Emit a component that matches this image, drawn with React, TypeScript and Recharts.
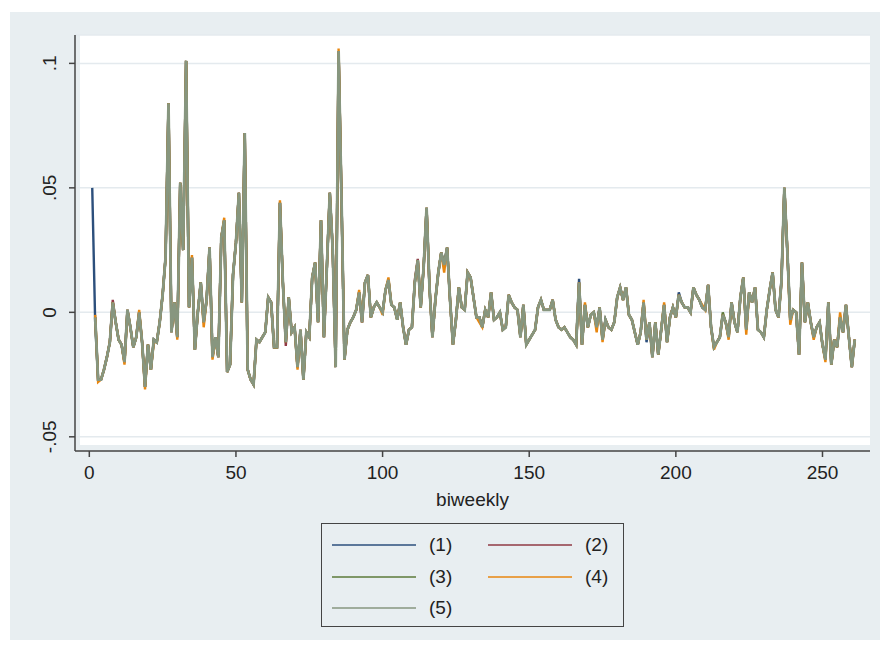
import { LineChart, Line, XAxis, YAxis, CartesianGrid } from 'recharts';

// biweekly periods 1..261
const weeks: number[] = Array.from({ length: 261 }, (_, i) => i + 1);

// shared path (series 2-5 start at week 2)
const base: (number | null)[] = [
  null, -0.002, -0.027, -0.027, -0.023, -0.018, -0.012, 0.004, -0.004, -0.011,
  -0.013, -0.020, 0.001, -0.006, -0.014, -0.010, 0.000, -0.012, -0.030, -0.013,
  -0.023, -0.011, -0.012, -0.004, 0.007, 0.022, 0.084, -0.008, 0.004, -0.010,
  0.052, 0.025, 0.101, 0.002, 0.022, -0.015, 0.000, 0.012, -0.004, 0.005,
  0.026, -0.018, -0.010, -0.018, 0.030, 0.037, -0.024, -0.021, 0.015, 0.028,
  0.048, 0.004, 0.072, -0.023, -0.027, -0.029, -0.011, -0.012, -0.010, -0.008,
  0.006, 0.004, -0.014, -0.014, 0.044, 0.012, -0.012, 0.006, -0.008, -0.006,
  -0.022, -0.007, -0.027, -0.008, -0.010, 0.014, 0.020, -0.004, 0.037, -0.010,
  0.018, 0.048, 0.025, -0.022, 0.105, 0.045, -0.019, -0.007, -0.004, -0.002,
  0.001, 0.008, -0.004, 0.012, 0.015, -0.002, 0.002, 0.004, 0.002, 0.000,
  0.009, 0.013, 0.003, 0.002, -0.003, 0.004, -0.006, -0.013, -0.007, -0.006,
  0.012, 0.021, 0.002, 0.018, 0.042, 0.010, -0.010, 0.005, 0.016, 0.024,
  0.019, 0.026, 0.005, -0.013, -0.003, 0.010, 0.002, 0.001, 0.016, 0.014,
  0.006, -0.002, -0.002, -0.006, 0.001, -0.002, 0.008, -0.003, -0.002, 0.000,
  -0.007, -0.006, 0.007, 0.004, 0.002, 0.001, -0.010, 0.003, -0.013, -0.011,
  -0.009, -0.007, 0.002, 0.005, 0.001, 0.001, 0.001, 0.005, -0.003, -0.006,
  -0.007, -0.006, -0.008, -0.010, -0.011, -0.013, 0.012, -0.013, 0.003, -0.006,
  -0.001, 0.000, -0.006, 0.002, -0.011, -0.003, -0.006, -0.007, -0.004, 0.006,
  0.010, 0.005, 0.010, -0.001, -0.003, -0.008, -0.013, -0.008, 0.004, -0.011,
  -0.004, -0.018, -0.004, -0.017, -0.007, 0.003, -0.012, -0.002, 0.002, -0.002,
  0.007, 0.004, 0.002, 0.002, 0.000, 0.010, 0.007, 0.005, 0.002, 0.001,
  0.011, -0.006, -0.014, -0.012, -0.010, -0.001, -0.004, -0.010, 0.004, -0.004,
  -0.008, 0.006, 0.014, -0.007, 0.008, 0.004, 0.010, -0.007, -0.008, -0.010,
  0.001, 0.009, 0.016, 0.001, -0.002, 0.012, 0.050, 0.025, -0.003, 0.001,
  0.000, -0.017, 0.020, -0.004, 0.004, -0.004, -0.010, -0.006, -0.004, -0.013,
  -0.019, 0.004, -0.021, -0.011, -0.014, -0.002, -0.008, 0.003, -0.010, -0.022,
  -0.011,
];

// where a series peeks out from under the others (week -> value)
const s1Diff: Record<number, number> = { 1: 0.05, 2: -0.004, 167: 0.0135, 190: -0.012, 201: 0.008, 236: 0.013 };
const s2Diff: Record<number, number> = { 8: 0.005, 67: -0.0135, 111: 0.013, 112: 0.0215 };
const s3Diff: Record<number, number> = { 93: -0.003, 216: 0.000 };
const s4Diff: Record<number, number> = {
  2: -0.001, 3: -0.028, 12: -0.021, 17: 0.001, 19: -0.031, 22: -0.012, 30: -0.011,
  35: 0.023, 39: -0.006, 42: -0.019, 43: -0.011, 46: 0.038, 65: 0.045, 71: -0.023,
  85: 0.106, 92: 0.009, 100: -0.001, 102: 0.014, 121: 0.016, 133: -0.004, 169: 0.004,
  173: -0.008, 175: -0.012, 189: 0.005, 196: 0.004, 209: 0.003, 213: -0.015,
  218: -0.011, 224: -0.009, 239: -0.005, 247: -0.011, 251: -0.020, 256: 0.000,
};

const seriesNames = ['(1)', '(2)', '(3)', '(4)', '(5)'];
const seriesColors = ['#2c4f7c', '#913a45', '#5d7a3a', '#e8860f', '#87967f'];
const yTicks = [-0.05, 0, 0.05, 0.1];
const xTicks = [0, 50, 100, 150, 200, 250];

const diffs = [s1Diff, s2Diff, s3Diff, s4Diff, {} as Record<number, number>];

const data = weeks.map((t, i) => {
  const row: Record<string, number | null> = { t };
  diffs.forEach((d, k) => {
    row[`s${k + 1}`] = d[t] !== undefined ? d[t] : base[i];
  });
  return row;
});

const FONT = '"Liberation Sans", Arial, Helvetica, sans-serif';

function fmtY(v: number) {
  if (v === 0) return '0';
  return String(v).replace('0.', '.');
}

function YTick(props: any) {
  const { x, y, payload } = props;
  return (
    <text
      x={x}
      y={y}
      transform={`rotate(-90, ${x}, ${y})`}
      textAnchor="middle"
      fontSize={19}
      fontFamily={FONT}
      fill="#222"
    >
      {fmtY(payload.value)}
    </text>
  );
}

export default function App() {
  return (
    <div style={{ position: 'absolute', left: 0, top: 0, width: 880, height: 651, background: '#fff', overflow: 'hidden' }}>
      <div style={{ position: 'absolute', left: 10, top: 12, width: 870, height: 628, background: '#e8eef1' }} />
      <div style={{ position: 'absolute', left: 80, top: 35, width: 790, height: 410, background: '#fff' }} />
      <div style={{ position: 'absolute', left: 0, top: 0 }}>
        <LineChart width={880} height={651} data={data} margin={{ top: 35, right: 10, left: 0, bottom: 0 }}>
          <CartesianGrid vertical={false} stroke="#e4eaee" strokeWidth={1.5} />
          <XAxis
            dataKey="t"
            type="number"
            domain={[-4.88, 266.2]}
            allowDataOverflow
            ticks={xTicks}
            height={200}
            tickSize={6}
            tickMargin={9}
            stroke="#444"
            strokeWidth={1.5}
            tick={{ fontSize: 19, fontFamily: FONT, fill: '#222' }}
            label={{ value: 'biweekly', position: 'insideTop', offset: 42, fontSize: 19, fontFamily: FONT, fill: '#222' }}
          />
          <YAxis
            type="number"
            domain={[-0.0557, 0.1114]}
            allowDataOverflow
            ticks={yTicks}
            width={75}
            tickSize={6}
            tickMargin={13}
            stroke="#444"
            strokeWidth={1.5}
            tick={<YTick />}
          />
          {seriesNames.map((name, k) => (
            <Line
              key={name}
              type="linear"
              dataKey={`s${k + 1}`}
              name={name}
              stroke={seriesColors[k]}
              strokeWidth={k === 4 ? 2.8 : 2.4}
              dot={false}
              isAnimationActive={false}
            />
          ))}
        </LineChart>
      </div>
      <div
        style={{
          position: 'absolute',
          left: 321,
          top: 523,
          width: 303,
          height: 104,
          boxSizing: 'border-box',
          border: '1.5px solid #444',
          fontFamily: FONT,
          fontSize: 19,
          color: '#222',
        }}
      >
        {seriesNames.map((name, k) => {
          const col = k % 2;
          const row = Math.floor(k / 2);
          return (
            <div key={name} style={{ position: 'absolute', left: 10 + col * 156, top: 10 + row * 31.5, height: 22, display: 'flex', alignItems: 'center' }}>
              <svg width={84} height={22}>
                <line x1={0} y1={11} x2={84} y2={11} stroke={seriesColors[k]} strokeWidth={1.6} />
              </svg>
              <span style={{ marginLeft: 13, lineHeight: '22px' }}>{name}</span>
            </div>
          );
        })}
      </div>
    </div>
  );
}
